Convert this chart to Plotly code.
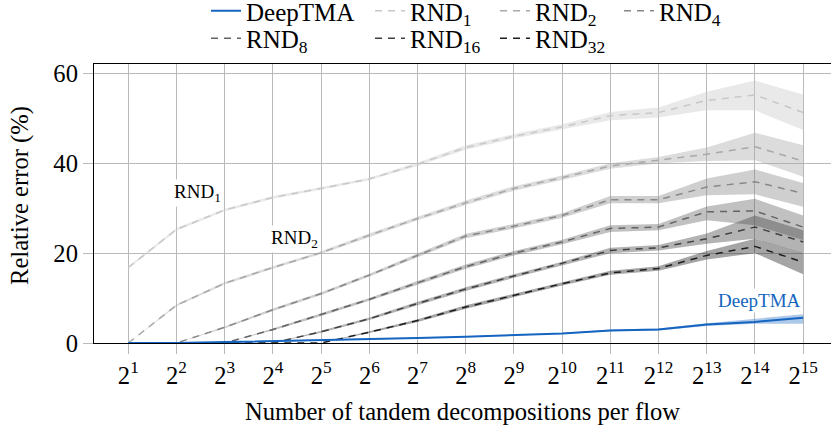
import plotly.graph_objects as go

# ---- data ----
exponents = list(range(1, 16))
tick_labels = [f"2<sup>{k}</sup>" for k in exponents]

deeptma = [0.0, 0.0, 0.2, 0.4, 0.6, 0.9, 1.1, 1.4, 1.7, 2.1, 2.8, 3.0, 4.1, 4.7, 5.6]
deeptma_lo = [0.0, 0.0, 0.1, 0.3, 0.5, 0.8, 1.0, 1.3, 1.6, 2.0, 2.6, 2.8, 3.8, 4.3, 4.3]
deeptma_hi = [0.0, 0.0, 0.3, 0.5, 0.7, 1.0, 1.2, 1.5, 1.8, 2.2, 3.0, 3.2, 4.4, 5.4, 6.4]

rnd1 = [16.8, 25.3, 29.6, 32.4, 34.4, 36.5, 39.8, 43.5, 46.0, 48.1, 50.6, 51.3, 54.0, 55.2, 51.3]
rnd1_lo = [16.5, 25.0, 29.3, 32.1, 34.1, 36.2, 39.4, 43.0, 45.5, 47.5, 49.6, 50.2, 51.8, 51.8, 47.4]
rnd1_hi = [17.1, 25.6, 29.9, 32.7, 34.7, 36.8, 40.2, 44.0, 46.5, 48.7, 51.4, 52.4, 55.9, 58.4, 55.3]

rnd2 = [0.0, 8.4, 13.3, 16.8, 20.1, 24.0, 27.7, 31.2, 34.4, 36.8, 39.4, 40.7, 42.0, 43.7, 40.5]
rnd2_lo = [0.0, 8.2, 13.0, 16.5, 19.8, 23.6, 27.3, 30.7, 33.9, 36.3, 38.8, 40.0, 40.5, 40.7, 37.0]
rnd2_hi = [0.0, 8.6, 13.6, 17.1, 20.4, 24.4, 28.1, 31.7, 34.9, 37.3, 40.0, 41.4, 43.5, 46.8, 44.0]

rnd4 = [0.0, 0.0, 3.5, 7.4, 11.0, 15.1, 19.5, 23.8, 26.0, 28.4, 31.9, 31.9, 34.7, 35.9, 33.3]
rnd4_lo = [0.0, 0.0, 3.3, 7.1, 10.7, 14.8, 19.1, 23.3, 25.5, 27.9, 31.1, 31.1, 32.9, 33.1, 30.3]
rnd4_hi = [0.0, 0.0, 3.7, 7.7, 11.3, 15.4, 19.9, 24.3, 26.5, 28.9, 32.7, 32.7, 36.6, 38.6, 35.6]

rnd8 = [0.0, 0.0, 0.0, 3.0, 6.3, 9.7, 13.4, 17.0, 20.0, 22.5, 25.5, 25.8, 29.2, 29.4, 25.8]
rnd8_lo = [0.0, 0.0, 0.0, 2.8, 6.0, 9.4, 13.0, 16.5, 19.5, 22.0, 24.7, 25.1, 27.3, 26.2, 22.9]
rnd8_hi = [0.0, 0.0, 0.0, 3.2, 6.6, 10.0, 13.8, 17.5, 20.5, 23.0, 26.2, 26.5, 30.4, 32.1, 28.4]

rnd16 = [0.0, 0.0, 0.0, 0.0, 2.5, 5.4, 8.8, 12.0, 14.9, 17.7, 20.6, 21.2, 23.2, 25.8, 22.5]
rnd16_lo = [0.0, 0.0, 0.0, 0.0, 2.3, 5.1, 8.4, 11.6, 14.5, 17.3, 20.0, 20.6, 22.1, 23.2, 19.9]
rnd16_hi = [0.0, 0.0, 0.0, 0.0, 2.7, 5.7, 9.2, 12.4, 15.3, 18.1, 21.2, 21.8, 24.4, 28.4, 25.1]

rnd32 = [0.0, 0.0, 0.0, 0.0, 0.0, 2.4, 5.0, 8.0, 10.6, 13.2, 15.6, 16.6, 19.5, 21.5, 18.0]
rnd32_lo = [0.0, 0.0, 0.0, 0.0, 0.0, 2.2, 4.7, 7.6, 10.2, 12.8, 15.2, 16.1, 18.6, 20.0, 15.3]
rnd32_hi = [0.0, 0.0, 0.0, 0.0, 0.0, 2.6, 5.3, 8.4, 11.0, 13.6, 16.1, 17.1, 20.5, 23.2, 20.0]

series_names = ["DeepTMA", "RND<sub>1</sub>", "RND<sub>2</sub>", "RND<sub>4</sub>",
                "RND<sub>8</sub>", "RND<sub>16</sub>", "RND<sub>32</sub>"]
series_mean = [deeptma, rnd1, rnd2, rnd4, rnd8, rnd16, rnd32]
series_lo = [deeptma_lo, rnd1_lo, rnd2_lo, rnd4_lo, rnd8_lo, rnd16_lo, rnd32_lo]
series_hi = [deeptma_hi, rnd1_hi, rnd2_hi, rnd4_hi, rnd8_hi, rnd16_hi, rnd32_hi]

# ---- styles ----
line_rgb = [(21, 101, 192), (200, 200, 200), (168, 168, 168), (136, 136, 136),
            (100, 100, 100), (64, 64, 64), (30, 30, 30)]
band_alpha = [0.35, 0.4, 0.4, 0.4, 0.4, 0.4, 0.4]
dashes = ["solid"] + ["7px,6px"] * 6
widths = [2.0] + [1.5] * 6

FONT = "Liberation Serif, Times New Roman, serif"
FS = 24.6
W, H = 831, 429
ML, MR, MT, MB = 94, 0, 64, 86

fig = go.Figure()

# bands
for i in range(len(series_names)):
    r, g, b = line_rgb[i]
    fig.add_trace(go.Scatter(x=exponents, y=series_lo[i], mode="lines",
                             line=dict(width=0), showlegend=False, hoverinfo="skip"))
    fig.add_trace(go.Scatter(x=exponents, y=series_hi[i], mode="lines",
                             line=dict(width=0), fill="tonexty",
                             fillcolor=f"rgba({r},{g},{b},{band_alpha[i]})",
                             showlegend=False, hoverinfo="skip"))

# legend placement (text start x in px, row centre y in px)
legend_pos = [(248, 11), (412, 11), (537, 11), (661, 11),
              (248, 38.5), (412, 38.5), (537, 38.5)]

draw_order = [6, 5, 4, 3, 2, 1, 0]
for i in draw_order:
    r, g, b = line_rgb[i]
    lname = "legend" if i == 0 else f"legend{i+1}"
    fig.add_trace(go.Scatter(x=exponents, y=series_mean[i], mode="lines",
                             name=series_names[i],
                             line=dict(color=f"rgb({r},{g},{b})", width=widths[i], dash=dashes[i]),
                             legend=lname))

legend_layouts = {}
for i, (px, py) in enumerate(legend_pos):
    key = "legend" if i == 0 else f"legend{i+1}"
    legend_layouts[key] = dict(
        x=(px - 42) / W, y=1 - py / H, xref="container", yref="container",
        xanchor="left", yanchor="middle", orientation="v",
        bgcolor="rgba(0,0,0,0)", borderwidth=0,
        font=dict(family=FONT, size=25, color="black"),
    )

fig.update_layout(**legend_layouts)

# in-plot labels
fig.add_annotation(x=2.43, y=33.3, text="RND<sub>1</sub>", showarrow=False,
                   bgcolor="white", font=dict(family=FONT, size=19, color="black"))
fig.add_annotation(x=4.45, y=23.2, text="RND<sub>2</sub>", showarrow=False,
                   bgcolor="white", font=dict(family=FONT, size=19, color="black"))
fig.add_annotation(x=14.09, y=9.4, text="DeepTMA", showarrow=False,
                   bgcolor="white", font=dict(family=FONT, size=19, color="rgb(21,101,192)"))

# y-axis title (placed as rotated text beside the axis)
pw = W - ML - MR
ph = H - MT - MB
fig.add_annotation(xref="paper", yref="paper", x=(20 - ML) / pw, y=(H - MB - 196) / ph,
                   text="Relative error (%)", textangle=-90, showarrow=False,
                   xanchor="center", yanchor="middle",
                   font=dict(family=FONT, size=FS, color="black"))

grid_col = "#bababa"
fig.update_xaxes(range=[0.288, 15.578], tickvals=exponents, ticktext=tick_labels,
                 showgrid=True, gridcolor=grid_col, gridwidth=1.3,
                 ticks="outside", ticklen=10, tickcolor=grid_col, tickwidth=1.3,
                 showline=True, linecolor="black", linewidth=1.3, mirror=True,
                 zeroline=False,
                 tickfont=dict(family=FONT, size=FS, color="black"),
                 title=dict(text="Number of tandem decompositions per flow",
                            font=dict(family=FONT, size=FS, color="black")))
fig.update_yaxes(range=[0, 62.1], tickvals=[0, 20, 40, 60],
                 showgrid=True, gridcolor=grid_col, gridwidth=1.3,
                 ticks="outside", ticklen=10, tickcolor=grid_col, tickwidth=1.3,
                 showline=True, linecolor="black", linewidth=1.3, mirror=False,
                 zeroline=False,
                 tickfont=dict(family=FONT, size=FS, color="black"))

fig.update_layout(width=W, height=H, plot_bgcolor="white", paper_bgcolor="white",
                  margin=dict(l=ML, r=MR, t=MT, b=MB, autoexpand=False),
                  font=dict(family=FONT, size=FS, color="black"))

fig.write_html("out.html")
